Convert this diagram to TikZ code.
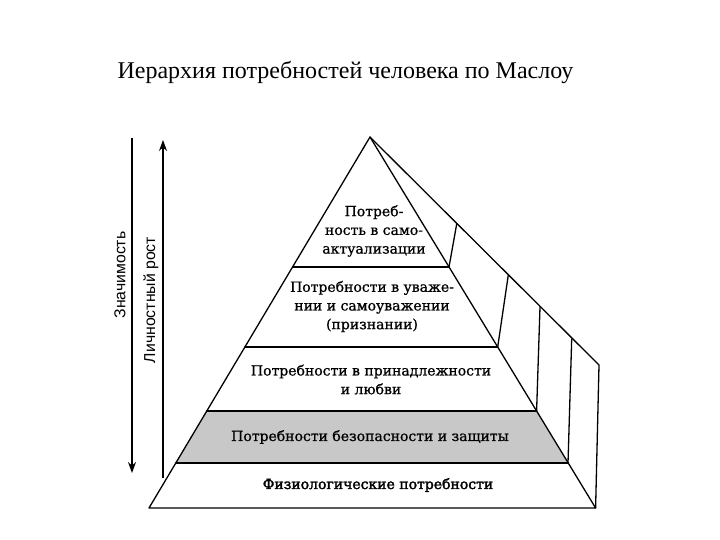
\documentclass[tikz,border=0pt]{standalone}
\usepackage{fontspec}
\setmainfont{Liberation Serif}
\newfontfamily\pyrfont[FakeBold=0.8]{DejaVu Serif}
\newfontfamily\pyrboldfont[FakeBold=2.2]{DejaVu Serif}
\newfontfamily\sidefont{Liberation Sans}
\usetikzlibrary{arrows.meta}
\definecolor{bandgray}{RGB}{200,200,200}
\begin{document}
\begin{tikzpicture}[x=1pt,y=-1pt,
  edge/.style={line width=1.3pt, line join=round, line cap=round},
  lbl/.style={font=\pyrfont\fontsize{14}{18.7}\selectfont, align=center, inner sep=0pt},
  boldlbl/.style={lbl, font=\pyrboldfont\fontsize{14}{18.7}\selectfont},
  axis/.style={line width=1.1pt, -{Stealth[length=11pt,width=8pt]}},
  axlbl/.style={font=\sidefont\fontsize{15.8}{18}\selectfont, rotate=90, inner sep=0pt}]
\useasboundingbox (0,0) rectangle (720,540);
% pyramid points
\coordinate (A) at (370,137);
\coordinate (L1) at (292.6,267); \coordinate (R1) at (449,267);
\coordinate (L2) at (244.9,347); \coordinate (R2) at (497.7,347);
\coordinate (L3) at (206.8,411); \coordinate (R3) at (536.6,411);
\coordinate (L4) at (175.8,463); \coordinate (R4) at (568,463);
\coordinate (L5) at (149,508);   \coordinate (R5) at (595.6,508);
\coordinate (O) at (599,365);
\coordinate (D1) at (456.7,224); \coordinate (D2) at (508.3,275);
\coordinate (D3) at (540,307);   \coordinate (D4) at (571.7,339);
% gray band
\fill[bandgray] (L3) -- (R3) -- (R4) -- (L4) -- cycle;
% outline
\draw[edge] (A) -- (L5) -- (R5) -- cycle;
\draw[edge] (A) -- (O) -- (R5);
\foreach \i in {1,...,4} {\draw[edge] (L\i) -- (R\i);}
\draw[edge] (D1) -- (R1);
\draw[edge] (D2) -- (R2);
\draw[edge] (D3) -- (R3);
\draw[edge] (D4) -- (R4);
% labels
\node[lbl] (t1) at (374,231) {Потреб-\\ность в само-\\актуализации};
\node[lbl] (t2) at (372,306.5) {Потребности в уваже-\\нии и самоуважении\\(признании)};
\node[lbl] (t3) at (371,379.5) {Потребности в принадлежности\\и любви};
\node[lbl] (t4) at (370,437) {Потребности безопасности и защиты};
\node[boldlbl] (t5) at (378,485) {Физиологические потребности};
% title
\node[font=\fontsize{24}{27}\selectfont, inner sep=0pt] (title) at (345.5,73) {Иерархия потребностей человека по Маслоу};
% side axes
\coordinate (sigTop) at (132,138); \coordinate (sigBot) at (132,473);
\coordinate (grBot) at (163,478);  \coordinate (grTop) at (163,140);
\draw[axis] (sigTop) -- (sigBot);
\draw[axis] (grBot) -- (grTop);
\node[axlbl] (sig) at (120,275) {Значимость};
\node[axlbl] (gr) at (151,300) {Личностный рост};
\end{tikzpicture}
\end{document}
